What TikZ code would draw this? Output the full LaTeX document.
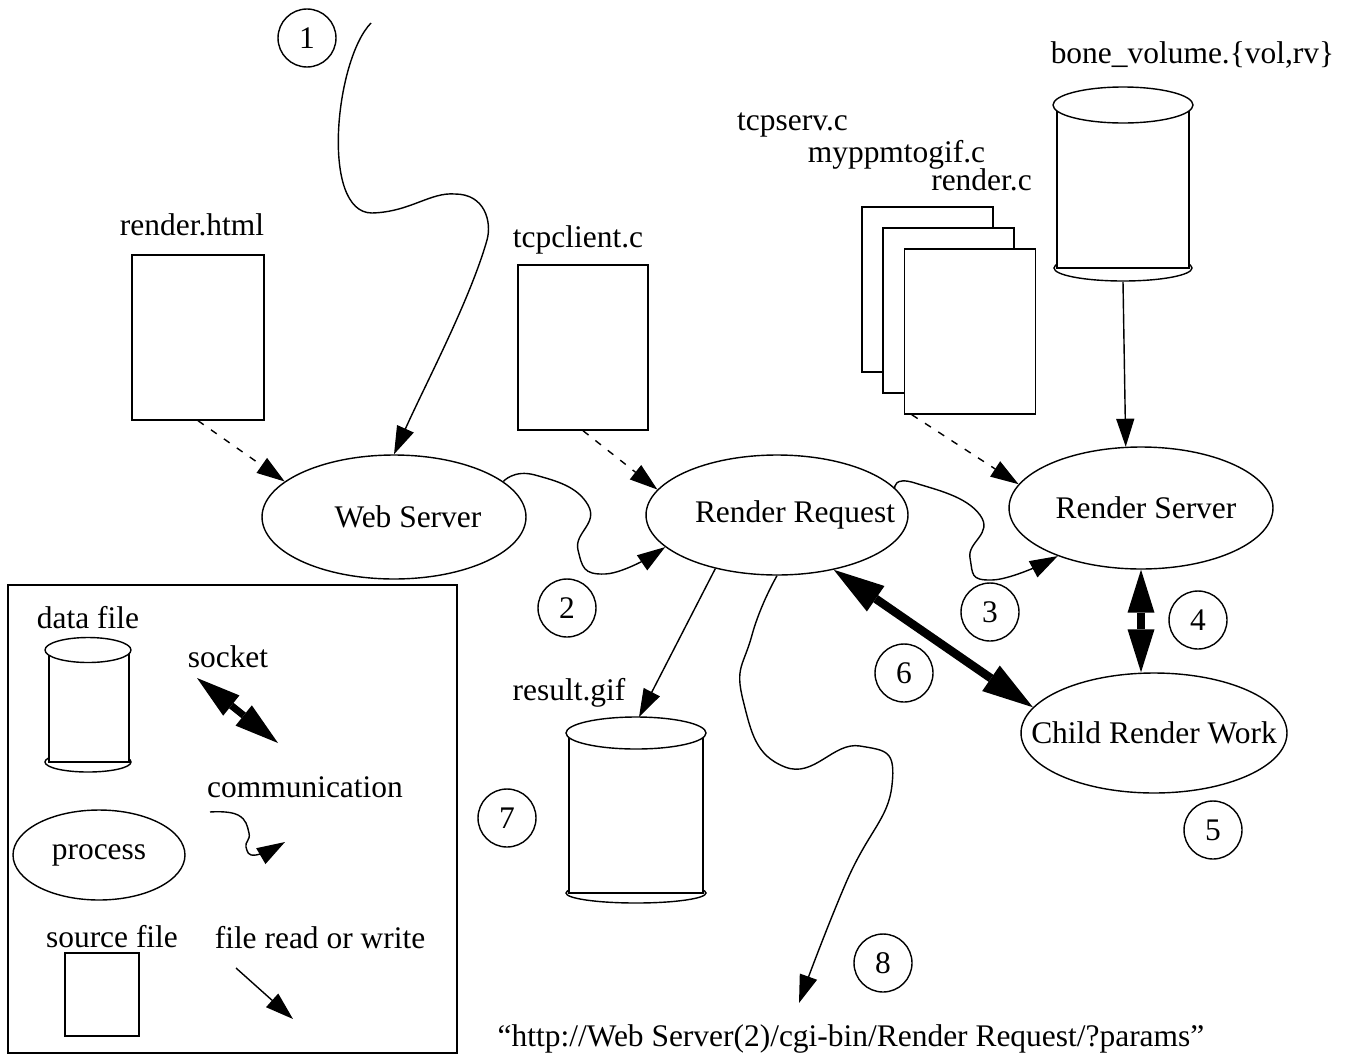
\documentclass[tikz,border=0pt]{standalone}
\usepackage{fontspec}
\setmainfont{Liberation Serif}
\usetikzlibrary{arrows.meta,shapes.geometric}

\begin{document}
\begin{tikzpicture}[
  x=0.02cm, y=-0.02cm,
  font=\fontsize{17.9pt}{21pt}\selectfont,
  line width=0.8pt,
  proc/.style={ellipse, draw, inner sep=0pt},
  srcfile/.style={rectangle, draw, fill=white, minimum width=2.62cm,
    minimum height=3.3cm, inner sep=0pt},
  lbl/.style={inner sep=0pt},
  numtag/.style={circle, draw, minimum size=1.16cm, inner sep=0pt},
  tip/.style={-{Triangle[length=0.56cm, width=0.36cm]}},
  comm/.style={tip},
  rw/.style={tip},
  readsrc/.style={tip, dash pattern=on 4pt off 5pt},
  sock/.style 2 args={{Triangle[length=#1, width=#2, line width=0pt]}-{Triangle[length=#1, width=#2, line width=0pt]},
    line width=0.17cm}
]
\useasboundingbox (0,0) rectangle (1345,1055);

% processes
\node[proc, minimum width=5.28cm, minimum height=2.48cm] (web) at (394,517)
  {\makebox[0pt]{\hspace{0.56cm}Web Server}};
\node[proc, minimum width=5.24cm, minimum height=2.4cm] (rreq) at (777,515)
  {\makebox[0pt]{\hspace{0.72cm}Render Request}};
\node[proc, minimum width=5.28cm, minimum height=2.44cm] (rserv) at (1141,508)
  {\makebox[0pt]{\hspace{0.2cm}Render Server}};
\node[proc, minimum width=5.32cm, minimum height=2.4cm] (child) at (1154,733)
  {\makebox[0pt]{Child Render Work}};

% source files
\node[srcfile, minimum width=2.64cm] (rhtml) at (198,337.5) {};
\node[lbl] (rhtmllbl) at (192,225) {render.html};
\node[srcfile, minimum width=2.6cm] (tcpc) at (583,347.5) {};
\node[lbl] (tcpclbl) at (578,240) {tcpclient.c};
\node[srcfile] (stack1) at (927.5,289.5) {};
\node[srcfile] (stack2) at (948.5,310.5) {};
\node[srcfile] (stack3) at (970,331.5) {};
\node[lbl] (servlbl) at (792.5,125) {tcpserv.c};
\node[lbl] (giflbl) at (896.5,155) {myppmtogif.c};
\node[lbl] (rendlbl) at (981.5,180) {render.c};

% data files
\draw (1123,268) ellipse (69 and 13);
\draw[fill=white] (1057,105) rectangle (1189,268);
\draw[fill=white] (1123,105) ellipse (70 and 18);
\coordinate (bonebot) at (1123,282);
\node[lbl] (bonelbl) at (1192.5,55) {bone\_volume.\{vol,rv\}};

\draw (636,893) ellipse (70 and 10);
\draw[fill=white] (569,733) rectangle (703,893);
\draw[fill=white] (636,733) ellipse (70 and 16);
\coordinate (restop) at (639,717);
\node[lbl] (reslbl) at (569,693) {result.gif};

% step numbers
\node[numtag] (n1) at (307,38) {1};
\node[numtag] (n2) at (567,608) {2};
\node[numtag] (n3) at (990,612) {3};
\node[numtag] (n4) at (1198,620) {4};
\node[numtag] (n5) at (1213,830) {5};
\node[numtag] (n6) at (904,673) {6};
\node[numtag] (n7) at (507,818) {7};
\node[numtag] (n8) at (883,963) {8};

% connectors
\coordinate (c1start) at (371,23);
\draw[comm] (c1start) .. controls (335,60) and (320,213) .. (372,213)
  .. controls (410,212) and (430,192) .. (455,194)
  .. controls (485,194) and (492,222) .. (487,240)
  .. controls (470,300) and (425,385) .. (web.north);
\draw[comm] plot[smooth, tension=0.9] coordinates {(web.18.4) (535,475) (588,505)
  (578,550) (605,574) (rreq.196)};
\draw[comm] plot[smooth, tension=0.9] coordinates {(rreq.13) (915,483) (980,515)
  (970,558) (992,580) (rserv.210.5)};
\coordinate (c8end) at (799,1003);
\draw[comm] plot[smooth, tension=0.9] coordinates {(rreq.south) (752,635) (743,700)
  (785,767) (860,746) (892,785) (845,885) (c8end)};

\draw[readsrc] (rhtml.south) -- (web.162.5);
\draw[readsrc] (tcpc.south) -- (rreq.168.9);
\draw[readsrc] (stack3.235) -- (rserv.169.4);

\draw[rw] (rreq.221.4) -- (restop);
\draw[rw] (bonebot) -- (rserv.104);

\draw[sock={1.02cm}{0.62cm}] (rreq.316) -- (child.168.9);
\draw[sock={0.86cm}{0.54cm}] (rserv.south) -- (child.north -| rserv.south);

\node[lbl, anchor=base west] (url) at (497,1046)
  {“http://Web Server(2)/cgi-bin/Render Request/?params”};

% legend
\draw (8,585) rectangle (457,1053);
\draw (88,762) ellipse (43 and 10);
\draw[fill=white] (49,650) rectangle (129,762);
\draw[fill=white] (88,650) ellipse (43 and 12.5);
\node[lbl] (datalbl) at (88,618) {data file};
\node[lbl] (socklbl) at (228,657) {socket};
\coordinate (sockA) at (197,678);
\coordinate (sockB) at (278,743);
\draw[sock={0.88cm}{0.52cm}, line width=0.14cm] (sockA) -- (sockB);
\node[lbl] (commlbl) at (305,787) {communication};
\coordinate (commA) at (210,812);
\coordinate (commB) at (285,842);
\draw[comm] plot[smooth, tension=0.8] coordinates {(commA) (238,815) (249,833)
  (246,847) (256,855) (commB)};
\node[proc, minimum width=3.44cm, minimum height=1.8cm] (lproc) at (99,855)
  {\makebox[0pt]{process}};
\node[lbl] (srclbl) at (112,937) {source file};
\node[srcfile, minimum width=1.48cm, minimum height=1.66cm] (lsrc) at (102,994.5) {};
\node[lbl] (rwlbl) at (320,938) {file read or write};
\coordinate (rwA) at (236,968);
\coordinate (rwB) at (293,1019);
\draw[rw] (rwA) -- (rwB);
\end{tikzpicture}
\end{document}
